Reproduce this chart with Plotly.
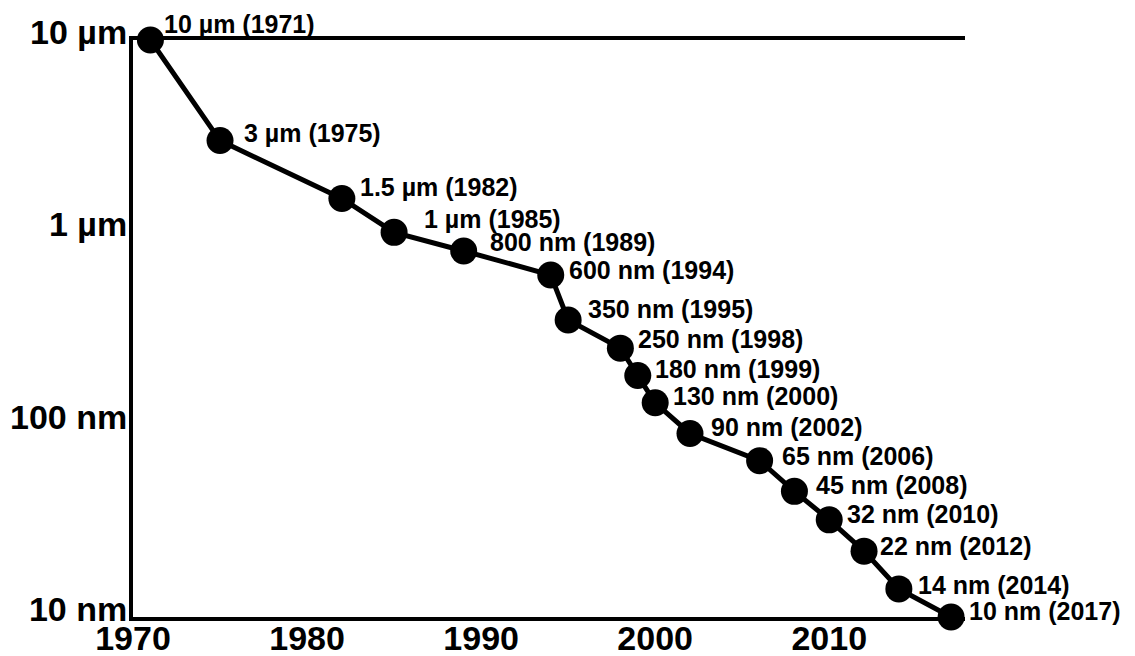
import math
import plotly.graph_objects as go

# Process node feature size by year of introduction
years = [1971, 1975, 1982, 1985, 1989, 1994, 1995, 1998, 1999, 2000,
         2002, 2006, 2008, 2010, 2012, 2014, 2017]
size_nm = [10000, 3000, 1500, 1000, 800, 600, 350, 250, 180, 130,
           90, 65, 45, 32, 22, 14, 10]
node_labels = ["10 µm", "3 µm", "1.5 µm", "1 µm", "800 nm", "600 nm", "350 nm",
               "250 nm", "180 nm", "130 nm", "90 nm", "65 nm", "45 nm", "32 nm",
               "22 nm", "14 nm", "10 nm"]

y_tick_vals = [10, 100, 1000, 10000]
y_tick_text = ["10 nm", "100 nm", "1 µm", "10 µm"]
x_tick_vals = [1970, 1980, 1990, 2000, 2010]

# horizontal / vertical offset of each callout from its marker, in pixels
label_dx = [12, 22, 16, 28, 24, 16, 18, 16, 15, 16, 19, 20, 20, 16, 14, 17, 16]
label_dy = [16, 8, 11, 13, 9, 5, 11, 9, 7, 7, 6, 5, 6, 6, 5, 4, 6]

label_font = dict(family="Liberation Sans, Arial", size=25, color="black")
tick_font = dict(family="Liberation Sans, Arial", size=34, color="black")

fig = go.Figure()
fig.add_trace(go.Scatter(
    x=years, y=size_nm, mode="lines+markers",
    line=dict(color="black", width=5),
    marker=dict(color="black", size=27),
    hoverinfo="skip", cliponaxis=False,
))

# annotation positions on a log axis are given in log10 units
for x, y, name, dx, dy in zip(years, size_nm, node_labels, label_dx, label_dy):
    fig.add_annotation(
        x=x, y=math.log10(y), yref="y", xref="x",
        text=f"<b>{name} ({x})</b>", showarrow=False,
        xanchor="left", yanchor="middle", xshift=dx, yshift=dy,
        font=label_font,
    )

fig.update_layout(
    width=1135, height=656,
    margin=dict(l=133, r=170, t=40, b=39),
    paper_bgcolor="white", plot_bgcolor="white",
    showlegend=False,
)
fig.update_xaxes(
    range=[1970, 2017.8], tickvals=x_tick_vals,
    ticktext=[f"<b>{v}</b>" for v in x_tick_vals],
    showgrid=False, zeroline=False, ticks="", automargin=False,
    showline=True, linecolor="black", linewidth=4, mirror=True,
    tickfont=tick_font, ticklabelstandoff=-12,
)
fig.update_yaxes(
    type="log", range=[1, 4], tickvals=y_tick_vals,
    ticktext=[f"<b>{t}</b>" for t in y_tick_text],
    showgrid=False, zeroline=False, ticks="", automargin=False,
    showline=True, linecolor="black", linewidth=4, mirror=False,
    tickfont=tick_font, ticklabelstandoff=-5, ticklabelshift=-8,
)

fig.write_html("out.html")
